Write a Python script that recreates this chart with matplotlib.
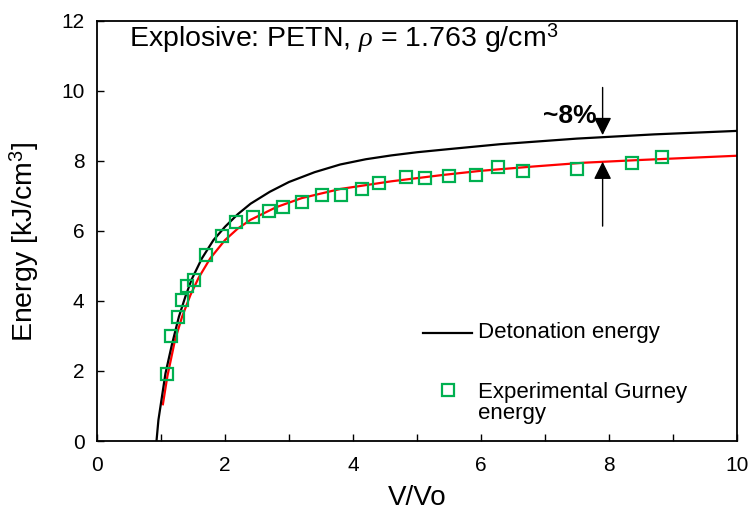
import matplotlib
matplotlib.use('Agg')
import matplotlib.pyplot as plt
from matplotlib.lines import Line2D

plt.rcParams['font.family'] = ['Liberation Sans', 'DejaVu Sans']
plt.rcParams['mathtext.fontset'] = 'custom'
plt.rcParams['mathtext.rm'] = 'Liberation Sans'
plt.rcParams['mathtext.it'] = 'Liberation Serif:italic'

# detonation energy curve (black)
x_det = [0.93, 0.96, 1.07, 1.17, 1.28, 1.38, 1.48, 1.64, 1.82, 2.0, 2.2, 2.4,
         2.7, 3.0, 3.4, 3.8, 4.2, 4.6, 5.0, 5.5, 6.3, 7.5, 8.7, 10.0]
y_det = [0.0, 0.6, 1.93, 2.75, 3.55, 4.12, 4.62, 5.22, 5.74, 6.12, 6.48, 6.78,
         7.12, 7.40, 7.68, 7.90, 8.05, 8.16, 8.25, 8.34, 8.48, 8.64, 8.76, 8.86]

# fitted Gurney energy curve (red)
x_fit = [1.03, 1.10, 1.22, 1.33, 1.46, 1.59, 1.77, 2.0, 2.2, 2.4, 2.8, 3.2,
         3.8, 4.6, 5.4, 6.0, 6.8, 7.6, 8.5, 10.0]
y_fit = [1.05, 1.85, 2.89, 3.55, 4.17, 4.67, 5.22, 5.74, 6.07, 6.32, 6.68, 6.94,
         7.20, 7.42, 7.60, 7.72, 7.84, 7.95, 8.03, 8.15]

# experimental Gurney energy (green squares)
x_exp = [1.10, 1.16, 1.27, 1.33, 1.41, 1.51, 1.71, 1.96, 2.17, 2.44, 2.68, 2.91,
         3.20, 3.51, 3.81, 4.14, 4.41, 4.83, 5.12, 5.50, 5.92, 6.27, 6.65, 7.50,
         8.36, 8.83]
y_exp = [1.91, 3.00, 3.53, 4.03, 4.43, 4.60, 5.32, 5.87, 6.26, 6.40, 6.56, 6.69,
         6.83, 7.04, 7.03, 7.19, 7.36, 7.54, 7.51, 7.57, 7.60, 7.82, 7.72, 7.77,
         7.95, 8.10]

green = '#00b050'

fig = plt.figure(figsize=(7.5, 5.17), dpi=100)
ax = fig.add_axes([0.1293, 0.147, 0.8534, 0.8124])

ax.plot(x_det, y_det, color='black', lw=1.6, zorder=3)
ax.plot(x_fit, y_fit, color='red', lw=1.6, zorder=2)
ax.plot(x_exp, y_exp, 's', ms=9, mfc='none', mec=green, mew=1.6, zorder=4)

ax.set_xlim(0, 10)
ax.set_ylim(0, 12)
ax.set_xticks(range(0, 11, 2))
ax.set_xticks(range(1, 10, 2), minor=True)
ax.set_yticks(range(0, 13, 2))
ax.tick_params(which='both', direction='in', length=5, width=1, labelsize=15, pad=9)
ax.tick_params(axis='x', pad=11)
for s in ax.spines.values():
    s.set_linewidth(1.3)

ax.set_xlabel('V/Vo', fontsize=20, labelpad=7)
ax.set_ylabel('Energy [kJ/cm$^3$]', fontsize=20.5)
ax.yaxis.set_label_coords(-0.088, 0.475)

ax.text(0.5, 11.29, r'Explosive: PETN, $\rho$ = 1.763 g/cm$^3$', fontsize=20.5,
        va='baseline')

# ~8% gap arrows
arrow = dict(arrowstyle='-|>,head_length=0.6,head_width=0.3', color='black',
             lw=1, mutation_scale=18, shrinkA=0, shrinkB=0)
ax.annotate('', xy=(7.9, 8.74), xytext=(7.9, 10.1), arrowprops=arrow)
ax.annotate('', xy=(7.9, 7.98), xytext=(7.9, 6.14), arrowprops=arrow)
ax.text(7.81, 9.29, '~8%', fontsize=19, fontweight='bold', ha='right', va='center')

# legend drawn by hand
ax.add_line(Line2D([5.09, 5.86], [3.09, 3.09], color='black', lw=1.6))
ax.text(5.95, 3.09, 'Detonation energy', fontsize=16, va='center')
ax.plot([5.48], [1.46], 's', ms=9, mfc='none', mec=green, mew=1.6)
ax.text(5.95, 1.1, 'Experimental Gurney\nenergy', fontsize=16, va='center',
        linespacing=1.0)

plt.savefig('out.png', dpi=100)
